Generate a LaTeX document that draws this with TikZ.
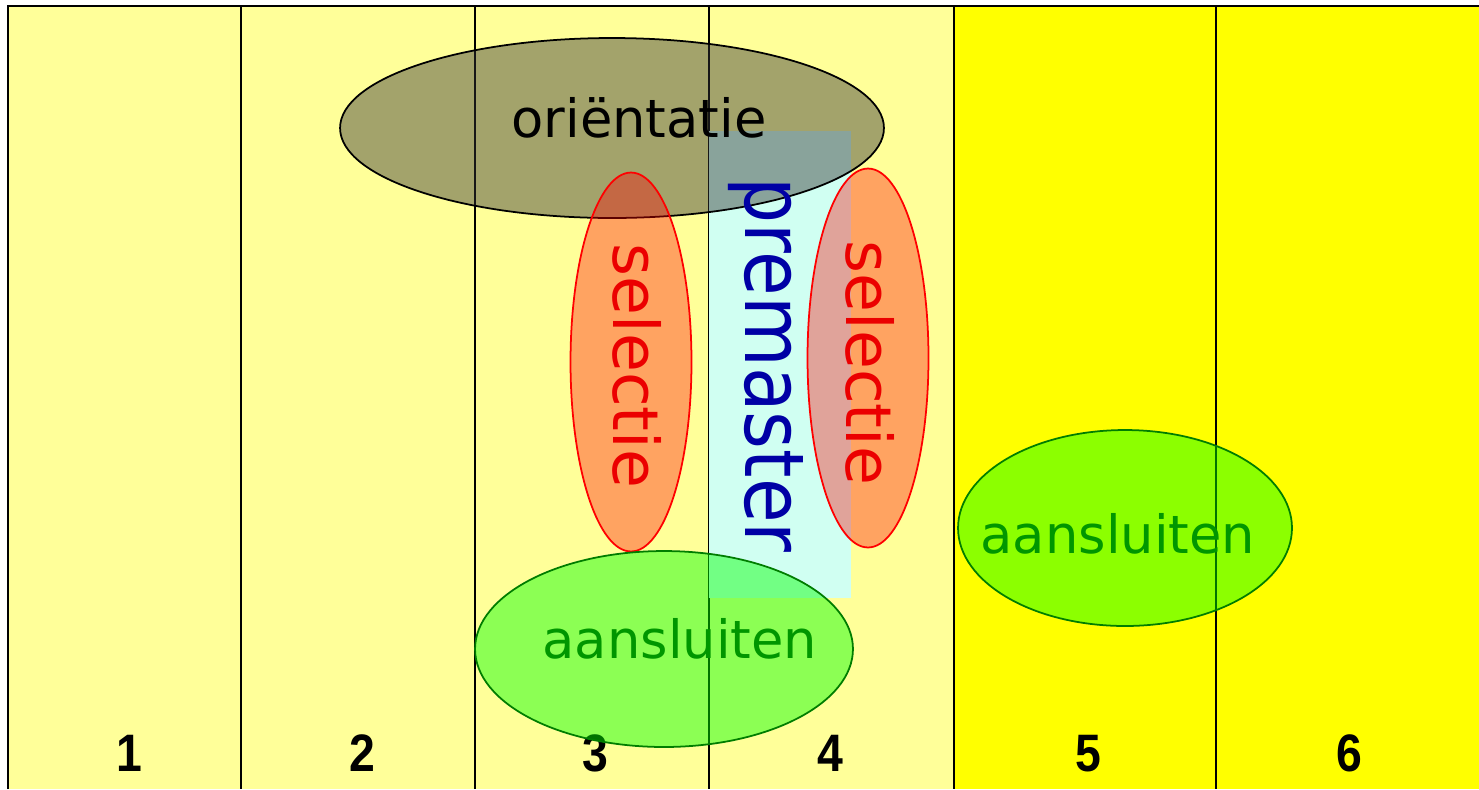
\documentclass[tikz,border=0pt]{standalone}
\usepackage{fontspec}
\setmainfont{DejaVu Sans}
\newfontfamily\numfont{Liberation Sans}
\usetikzlibrary{shapes.geometric}
\definecolor{lightyel}{RGB}{255,255,153}
\definecolor{fullyel}{RGB}{255,255,0}
\definecolor{premcyan}{RGB}{208,255,242}
\definecolor{darkfill}{RGB}{51,51,51}
\definecolor{premblue}{RGB}{0,0,165}
\definecolor{selred}{RGB}{235,0,0}
\definecolor{aangreen}{RGB}{0,150,0}
\definecolor{aanborder}{RGB}{0,125,0}
\tikzset{
  colline/.style={draw=black, line width=1.2pt},
  numlabel/.style={anchor=base, font=\numfont\bfseries\fontsize{30}{36}\selectfont, inner sep=0pt},
  oribox/.style={ellipse, draw=black, line width=1pt, fill=darkfill, fill opacity=0.45, inner sep=0pt},
  selbox/.style={ellipse, draw=red, line width=1pt, fill=red, fill opacity=0.36, inner sep=0pt, minimum width=2.42cm, minimum height=7.58cm},
  aanbox/.style={ellipse, draw=aanborder, line width=1pt, fill=green, fill opacity=0.45, inner sep=0pt, minimum height=3.92cm},
  bigtext/.style={anchor=base, inner sep=0pt},
}
\begin{document}
\begin{tikzpicture}[x=0.02cm, y=-0.02cm]
\useasboundingbox (0,0) rectangle (1479,789);
\fill[white] (0,0) rectangle (1479,789);
\fill[lightyel] (8,6) rectangle (954,789);
\fill[fullyel] (954,6) rectangle (1479,789);
% frame and column lines
\draw[colline] (8,789) -- (8,6) -- (1479,6);
\foreach \xx in {241,475,709,954,1216} {
  \draw[colline] (\xx,6) -- (\xx,789);
}
% column numbers
\node[numlabel] (n1) at (129,771) {\scalebox{0.88}[1]{1}};
\node[numlabel] (n2) at (362,771) {\scalebox{0.88}[1]{2}};
\node[numlabel] (n3) at (595,771) {\scalebox{0.88}[1]{3}};
\node[numlabel] (n4) at (830,771) {\scalebox{0.88}[1]{4}};
\node[numlabel] (n5) at (1088,771) {\scalebox{0.88}[1]{5}};
\node[numlabel] (n6) at (1349,771) {\scalebox{0.88}[1]{6}};
% premaster band
\fill[premcyan] (709,131) rectangle (851,598);
% ellipses
\node[oribox, minimum width=10.88cm, minimum height=3.6cm] (ori) at (612,128) {};
\node[selbox] (sel1) at (631,362) {};
\node[selbox] (sel2) at (868,358) {};
\node[aanbox, minimum width=7.56cm] (aan1) at (664,649) {};
\node[aanbox, minimum width=6.68cm] (aan2) at (1125,528) {};
% texts
\node[bigtext, font=\fontsize{30}{36}\selectfont] (tori) at (639,137) {oriëntatie};
\node[bigtext, text=premblue, rotate=-90, font=\fontsize{47}{52}\selectfont] (tprem) at (745,365) {\scalebox{0.88}[1]{premaster}};
\node[bigtext, text=selred, rotate=-90, font=\fontsize{36}{42}\selectfont] (tsel1) at (613,366) {selectie};
\node[bigtext, text=selred, rotate=-90, font=\fontsize{36}{42}\selectfont] (tsel2) at (846,363) {selectie};
\node[bigtext, text=aangreen, font=\fontsize{30}{36}\selectfont] (taan1) at (680,658) {aansluiten};
\node[bigtext, text=aangreen, font=\fontsize{30}{36}\selectfont] (taan2) at (1118,553) {aansluiten};
\end{tikzpicture}
\end{document}
